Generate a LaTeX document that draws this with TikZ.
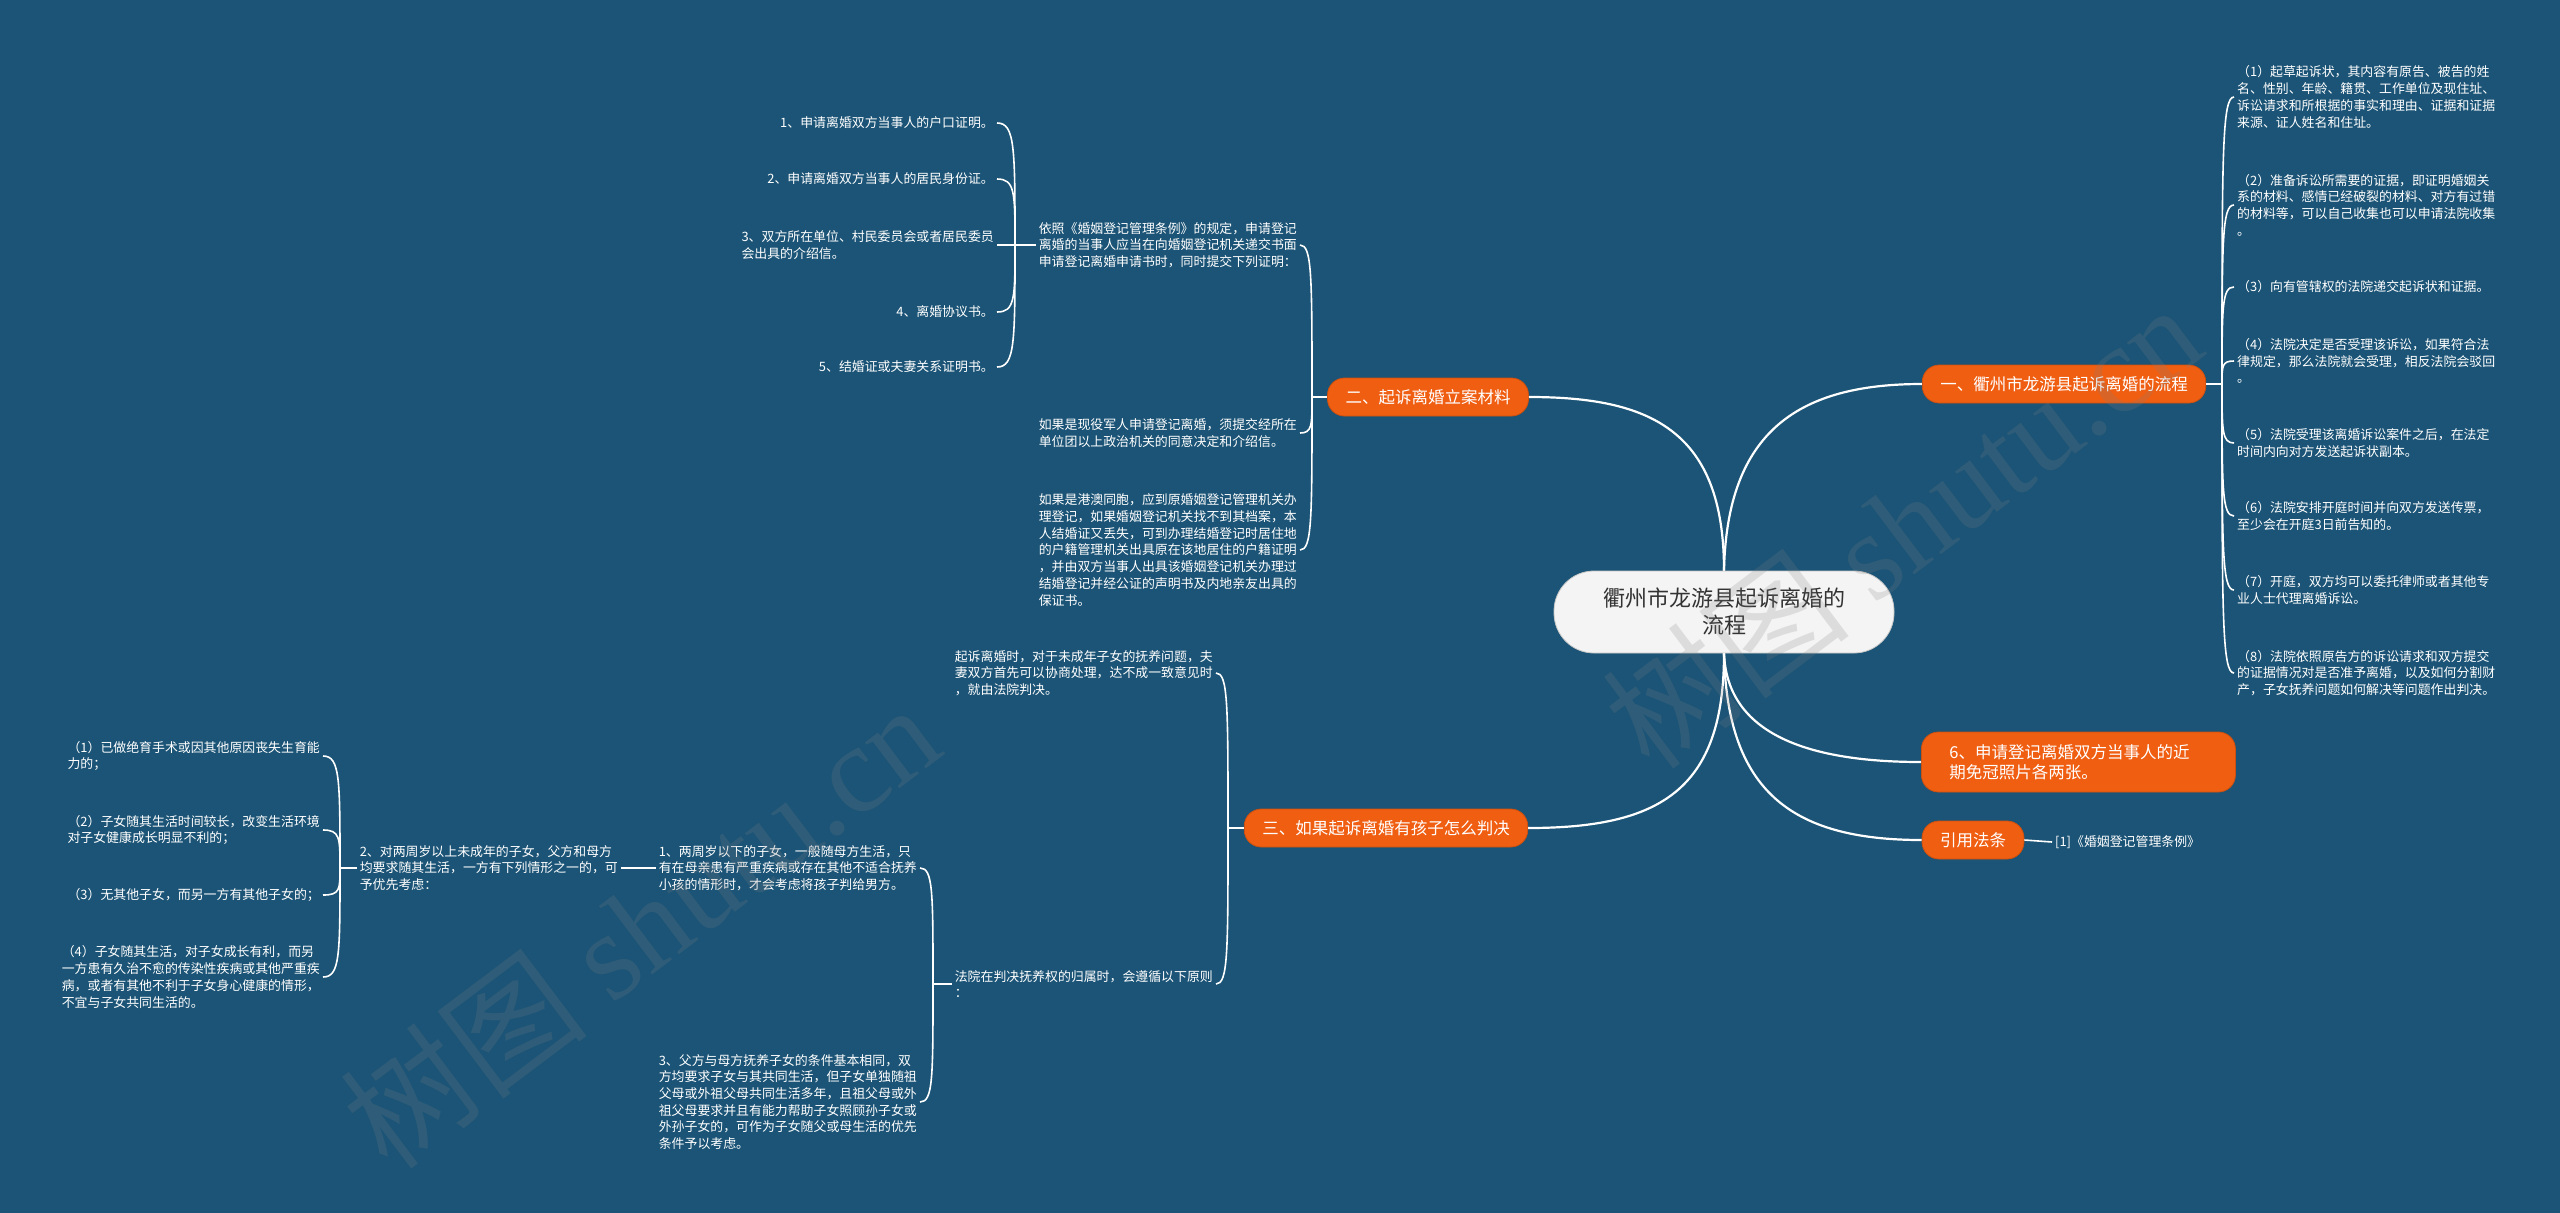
\documentclass[tikz,border=0pt]{standalone}
\usepackage{fontspec}
\setmainfont{Noto Sans CJK SC}
\newfontfamily\wmfont{Liberation Serif}
\usetikzlibrary{calc}

\definecolor{bgblue}{RGB}{27,84,118}
\definecolor{branchorange}{RGB}{240,94,18}
\definecolor{rootfill}{RGB}{244,244,244}
\definecolor{roottext}{RGB}{51,51,51}

\begin{document}
\begin{tikzpicture}[
  x=1pt, y=-1pt,
  root/.style={fill=rootfill, draw=gray!45, line width=0.8pt, text=roottext, rounded corners=40pt,
    align=center, minimum width=340pt, minimum height=82pt, font=\fontsize{22}{27}\selectfont},
  branch/.style={fill=branchorange, draw=branchorange!85!black, line width=0.8pt, text=white,
    rounded corners=17pt, inner xsep=18pt, minimum height=38pt, font=\fontsize{16.5}{20}\selectfont},
  leaf/.style={text=white, align=left, inner xsep=3pt, inner ysep=2pt, font=\fontsize{12.9}{16.7}\selectfont},
  link/.style={draw=white, line width=2.2pt},
  twig/.style={draw=white, line width=1.6pt},
  hookto/.style={to path={.. controls ($(\tikztostart)!0.8!(\tikztostart |- \tikztotarget)$)
    and (\tikztostart |- \tikztotarget) .. (\tikztotarget)}},
  wm/.style={text=gray, opacity=0.2, rotate=37, font=\fontsize{125}{125}\selectfont}
]
  \fill[bgblue] (0,0) rectangle (2560,1213);
  \useasboundingbox (0,0) rectangle (2560,1213);

  % centre and main branches
  \node[root] (root) at (1724,612) {衢州市龙游县起诉离婚的\\流程};
  \node[branch] (flow) at (2064,384) {一、衢州市龙游县起诉离婚的流程};
  \node[branch] (material) at (1428,397) {二、起诉离婚立案材料};
  \node[branch] (custody) at (1386,828) {三、如果起诉离婚有孩子怎么判决};
  \node[branch, anchor=west, align=left, text width=258pt, inner xsep=28pt, minimum height=60pt] (photo) at (1921,762) {6、申请登记离婚双方当事人的近\\期免冠照片各两张。};
  \node[branch] (law) at (1973,840) {引用法条};

  \draw[link] (root.north) .. controls (1727,430) and (1800,384) .. (flow.west);
  \draw[link] (root.north) .. controls (1724,430) and (1650,397) .. (material.east);
  \draw[link] (root.south) .. controls (1727,730) and (1800,762) .. (photo.west);
  \draw[link] (root.south) .. controls (1727,790) and (1790,840) .. (law.west);
  \draw[link] (root.south) .. controls (1724,790) and (1660,828) .. (custody.east);

  % right column: steps
  \node[leaf, anchor=west] (s1) at (2234,97) {（1）起草起诉状，其内容有原告、被告的姓\\名、性别、年龄、籍贯、工作单位及现住址、\\诉讼请求和所根据的事实和理由、证据和证据\\来源、证人姓名和住址。};
  \node[leaf, anchor=west] (s2) at (2234,205) {（2）准备诉讼所需要的证据，即证明婚姻关\\系的材料、感情已经破裂的材料、对方有过错\\的材料等，可以自己收集也可以申请法院收集\\。};
  \node[leaf, anchor=west] (s3) at (2234,287) {（3）向有管辖权的法院递交起诉状和证据。};
  \node[leaf, anchor=west] (s4) at (2234,361) {（4）法院决定是否受理该诉讼，如果符合法\\律规定，那么法院就会受理，相反法院会驳回\\。};
  \node[leaf, anchor=west] (s5) at (2234,443) {（5）法院受理该离婚诉讼案件之后，在法定\\时间内向对方发送起诉状副本。};
  \node[leaf, anchor=west] (s6) at (2234,516) {（6）法院安排开庭时间并向双方发送传票，\\至少会在开庭3日前告知的。};
  \node[leaf, anchor=west] (s7) at (2234,590) {（7）开庭，双方均可以委托律师或者其他专\\业人士代理离婚诉讼。};
  \node[leaf, anchor=west] (s8) at (2234,673) {（8）法院依照原告方的诉讼请求和双方提交\\的证据情况对是否准予离婚，以及如何分割财\\产，子女抚养问题如何解决等问题作出判决。};

  \coordinate (flowj) at (2222,384);
  \draw[twig] (flow.east) -- (flowj);
  \draw[twig] (flowj) to[hookto] (s1.west);
  \draw[twig] (flowj) to[hookto] (s2.west);
  \draw[twig] (flowj) to[hookto] (s3.west);
  \draw[twig] (flowj) to[hookto] (s4.west);
  \draw[twig] (flowj) to[hookto] (s5.west);
  \draw[twig] (flowj) to[hookto] (s6.west);
  \draw[twig] (flowj) to[hookto] (s7.west);
  \draw[twig] (flowj) to[hookto] (s8.west);

  \node[leaf, anchor=west] (lawref) at (2052,842) {[1]《婚姻登记管理条例》};
  \draw[twig] (law.east) -- (lawref.west);

  % branch two: materials
  \node[leaf, anchor=east] (rule) at (1300,245) {依照《婚姻登记管理条例》的规定，申请登记\\离婚的当事人应当在向婚姻登记机关递交书面\\申请登记离婚申请书时，同时提交下列证明：};
  \node[leaf, anchor=east] (army) at (1300,433) {如果是现役军人申请登记离婚，须提交经所在\\单位团以上政治机关的同意决定和介绍信。};
  \node[leaf, anchor=east] (hkmo) at (1300,550) {如果是港澳同胞，应到原婚姻登记管理机关办\\理登记，如果婚姻登记机关找不到其档案，本\\人结婚证又丢失，可到办理结婚登记时居住地\\的户籍管理机关出具原在该地居住的户籍证明\\，并由双方当事人出具该婚姻登记机关办理过\\结婚登记并经公证的声明书及内地亲友出具的\\保证书。};

  \coordinate (materialj) at (1312,397);
  \draw[twig] (material.west) -- (materialj);
  \draw[twig] (materialj) to[hookto] (rule.east);
  \draw[twig] (materialj) to[hookto] (army.east);
  \draw[twig] (materialj) to[hookto] (hkmo.east);

  \node[leaf, anchor=east] (p1) at (997,123) {1、申请离婚双方当事人的户口证明。};
  \node[leaf, anchor=east] (p2) at (997,179) {2、申请离婚双方当事人的居民身份证。};
  \node[leaf, anchor=east] (p3) at (997,245) {3、双方所在单位、村民委员会或者居民委员\\会出具的介绍信。};
  \node[leaf, anchor=east] (p4) at (997,312) {4、离婚协议书。};
  \node[leaf, anchor=east] (p5) at (997,367) {5、结婚证或夫妻关系证明书。};

  \coordinate (rulej) at (1015,245);
  \draw[twig] (rule.west) -- (rulej);
  \draw[twig] (rulej) to[hookto] (p1.east);
  \draw[twig] (rulej) to[hookto] (p2.east);
  \draw[twig] (rulej) to[hookto] (p3.east);
  \draw[twig] (rulej) to[hookto] (p4.east);
  \draw[twig] (rulej) to[hookto] (p5.east);

  % branch three: children
  \node[leaf, anchor=east] (agree) at (1216,673) {起诉离婚时，对于未成年子女的抚养问题，夫\\妻双方首先可以协商处理，达不成一致意见时\\，就由法院判决。};
  \node[leaf, anchor=east] (court) at (1216,984) {法院在判决抚养权的归属时，会遵循以下原则\\：};

  \coordinate (custodyj) at (1228,828);
  \draw[twig] (custody.west) -- (custodyj);
  \draw[twig] (custodyj) to[hookto] (agree.east);
  \draw[twig] (custodyj) to[hookto] (court.east);

  \node[leaf, anchor=east] (under2) at (920,868) {1、两周岁以下的子女，一般随母方生活，只\\有在母亲患有严重疾病或存在其他不适合抚养\\小孩的情形时，才会考虑将孩子判给男方。};
  \node[leaf, anchor=east] (equal) at (920,1102) {3、父方与母方抚养子女的条件基本相同，双\\方均要求子女与其共同生活，但子女单独随祖\\父母或外祖父母共同生活多年，且祖父母或外\\祖父母要求并且有能力帮助子女照顾孙子女或\\外孙子女的，可作为子女随父或母生活的优先\\条件予以考虑。};

  \coordinate (courtj) at (933,984);
  \draw[twig] (court.west) -- (courtj);
  \draw[twig] (courtj) to[hookto] (under2.east);
  \draw[twig] (courtj) to[hookto] (equal.east);

  \node[leaf, anchor=east] (over2) at (621,868) {2、对两周岁以上未成年的子女，父方和母方\\均要求随其生活，一方有下列情形之一的，可\\予优先考虑：};
  \draw[twig] (under2.west) -- (over2.east);

  \node[leaf, anchor=east] (c1) at (323,756) {（1）已做绝育手术或因其他原因丧失生育能\\力的；};
  \node[leaf, anchor=east] (c2) at (323,830) {（2）子女随其生活时间较长，改变生活环境\\对子女健康成长明显不利的；};
  \node[leaf, anchor=east] (c3) at (323,895) {（3）无其他子女，而另一方有其他子女的；};
  \node[leaf, anchor=east] (c4) at (323,977) {（4）子女随其生活，对子女成长有利，而另\\一方患有久治不愈的传染性疾病或其他严重疾\\病，或者有其他不利于子女身心健康的情形，\\不宜与子女共同生活的。};

  \coordinate (over2j) at (340,868);
  \draw[twig] (over2.west) -- (over2j);
  \draw[twig] (over2j) to[hookto] (c1.east);
  \draw[twig] (over2j) to[hookto] (c2.east);
  \draw[twig] (over2j) to[hookto] (c3.east);
  \draw[twig] (over2j) to[hookto] (c4.east);

  % watermarks
  \node[wm] (wmleft) at (640,925) {树图 {\wmfont shutu.cn}};
  \node[wm] (wmright) at (1902,525) {树图 {\wmfont shutu.cn}};
\end{tikzpicture}
\end{document}
